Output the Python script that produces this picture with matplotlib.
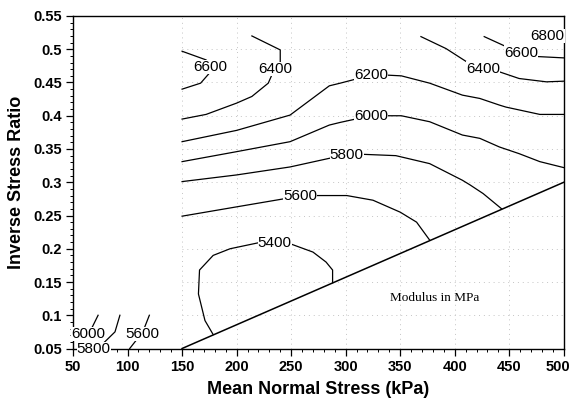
import numpy as np
import matplotlib.pyplot as plt
from matplotlib.ticker import MultipleLocator

# contour lines (x = mean normal stress kPa, y = inverse stress ratio)
c6800_x = [485]
c6800_y = [0.520]

c6600a_x = [150, 172, 178, 175, 167, 150]
c6600a_y = [0.497, 0.484, 0.473, 0.464, 0.449, 0.440]

c6600b_x = [427, 447, 461, 476, 500]
c6600b_y = [0.519, 0.504, 0.495, 0.489, 0.487]

c6400a_x = [214, 240, 240, 236, 233, 229, 214, 200, 172, 150]
c6400a_y = [0.520, 0.499, 0.481, 0.470, 0.464, 0.449, 0.429, 0.419, 0.402, 0.395]

c6400b_x = [369, 392, 411, 426, 441, 459, 484, 500]
c6400b_y = [0.519, 0.501, 0.481, 0.471, 0.466, 0.456, 0.451, 0.452]

c6200_x = [150, 200, 249, 285, 295, 323, 339, 351, 377, 407, 423, 441, 447, 478, 500]
c6200_y = [0.361, 0.378, 0.401, 0.445, 0.449, 0.461, 0.461, 0.460, 0.449, 0.431, 0.426, 0.416, 0.413, 0.402, 0.402]

c6000_x = [150, 200, 249, 285, 295, 323, 351, 377, 407, 423, 441, 459, 478, 500]
c6000_y = [0.331, 0.346, 0.361, 0.386, 0.390, 0.400, 0.400, 0.391, 0.371, 0.366, 0.353, 0.343, 0.331, 0.322]

c5800_x = [150, 200, 249, 285, 301, 316, 346, 377, 407, 414, 426, 443]
c5800_y = [0.301, 0.311, 0.323, 0.336, 0.341, 0.342, 0.340, 0.328, 0.303, 0.296, 0.283, 0.260]

c5600_x = [150, 200, 243, 258, 273, 301, 325, 350, 365, 377]
c5600_y = [0.249, 0.263, 0.275, 0.279, 0.280, 0.280, 0.273, 0.255, 0.240, 0.213]

c5400_x = [178.5, 171, 165, 166, 178.5, 194, 220, 235, 250, 270, 282, 288, 288]
c5400_y = [0.071, 0.092, 0.132, 0.168, 0.190, 0.200, 0.209, 0.209, 0.207, 0.195, 0.180, 0.168, 0.149]

# small contours in the lower left corner
l6000_x = [73, 67, 64]
l6000_y = [0.100, 0.080, 0.072]
l5800_x = [93, 88.5, 76, 69]
l5800_y = [0.100, 0.075, 0.055, 0.049]
l5600_x = [120, 114, 102]
l5600_y = [0.100, 0.075, 0.050]

# boundary of the data region
bound_x = [150, 500]
bound_y = [0.05, 0.30]

x_ticks = [50, 100, 150, 200, 250, 300, 350, 400, 450, 500]
y_ticks = [0.05, 0.1, 0.15, 0.2, 0.25, 0.3, 0.35, 0.4, 0.45, 0.5, 0.55]
y_tick_labels = ['0.05', '0.1', '0.15', '0.2', '0.25', '0.3', '0.35', '0.4', '0.45', '0.5', '0.55']

lines = [
    (c6600a_x, c6600a_y), (c6600b_x, c6600b_y),
    (c6400a_x, c6400a_y), (c6400b_x, c6400b_y),
    (c6200_x, c6200_y), (c6000_x, c6000_y),
    (c5800_x, c5800_y), (c5600_x, c5600_y), (c5400_x, c5400_y),
    (l6000_x, l6000_y), (l5800_x, l5800_y), (l5600_x, l5600_y),
]

# label text, anchored on a point of its contour
labels = [
    ('6800', c6800_x[0], c6800_y[0]),
    ('6600', 176, 0.473),
    ('6600', c6600b_x[2], c6600b_y[2]),
    ('6400', 235, 0.470),
    ('6400', c6400b_x[3], c6400b_y[3]),
    ('6200', 323, 0.461),
    ('6000', 323, 0.400),
    ('5800', c5800_x[4], c5800_y[4]),
    ('5600', c5600_x[3], c5600_y[3]),
    ('5400', c5400_x[7], c5400_y[7]),
    ('6000', l6000_x[2], l6000_y[2]),
    ('5800', l5800_x[3], l5800_y[3]),
    ('5600', 114, 0.072),
]

plt.rcParams['font.family'] = ['Liberation Sans', 'DejaVu Sans']

fig = plt.figure(figsize=(5.73, 4.05), dpi=100)
ax = fig.add_axes([0.1274, 0.1395, 0.8566, 0.821])

# faint dotted grid, only over the measured region
grid_style = dict(colors='#c4c4c4', linestyles=(0, (1, 4)), linewidth=0.7, zorder=0)
for gx in x_ticks[2:-1]:
    ax.vlines(gx, 0.05, 0.55, **grid_style)
for gy in y_ticks[1:-1]:
    ax.hlines(gy, 150, 500, **grid_style)

for xs, ys in lines:
    ax.plot(xs, ys, color='black', linewidth=0.9, zorder=2)
ax.plot(bound_x, bound_y, color='black', linewidth=1.1, zorder=2)

for txt, lx, ly in labels:
    ax.text(lx, ly, txt, fontsize=11, ha='center', va='center', zorder=3,
            bbox=dict(facecolor='white', edgecolor='none', pad=0.1))

ax.text(382, 0.126, 'Modulus in MPa', fontsize=9.5, family='Liberation Serif',
        ha='center', va='center')

ax.set_xlim(50, 500)
ax.set_ylim(0.05, 0.55)
ax.set_xticks(x_ticks)
# the last label is drawn by hand, a bit left of its tick so it stays inside the figure
ax.set_xticklabels([str(v) for v in x_ticks[:-1]] + [''])
ax.xaxis.set_minor_locator(MultipleLocator(10))
ax.set_yticks(y_ticks)
ax.set_yticklabels(y_tick_labels)
ax.yaxis.set_minor_locator(MultipleLocator(0.01))
ax.tick_params(which='major', direction='out', length=5, width=0.9, labelsize=10.5, pad=3)
ax.tick_params(which='minor', direction='out', length=2.5, width=0.7)
for lab in ax.get_xticklabels() + ax.get_yticklabels():
    lab.set_fontweight('bold')
ax.annotate(str(x_ticks[-1]), xy=(x_ticks[-1], 0), xycoords=('data', 'axes fraction'),
            xytext=(-4, -8), textcoords='offset points', ha='center', va='top',
            fontsize=10.5, fontweight='bold', annotation_clip=False)

for sp in ax.spines.values():
    sp.set_linewidth(1.0)

ax.set_xlabel('Mean Normal Stress (kPa)', fontsize=13, fontweight='bold', labelpad=5)
ax.set_ylabel('Inverse Stress Ratio', fontsize=13, fontweight='bold', labelpad=6)

fig.savefig('out.png', dpi=100)
